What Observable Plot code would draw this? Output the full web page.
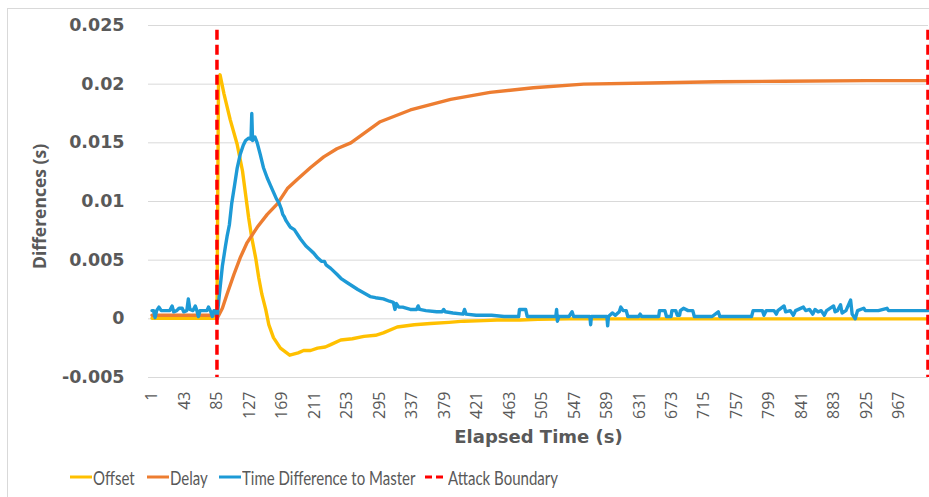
<!DOCTYPE html>
<html><head><meta charset="utf-8">
<script src="https://cdn.jsdelivr.net/npm/d3@7"></script>
<script src="https://cdn.jsdelivr.net/npm/@observablehq/plot@0.6"></script>
<style>
body{margin:0;background:#fff;}
#wrap{position:relative;width:929px;height:497px;overflow:hidden;background:#fff}
#frame{position:absolute;left:7px;top:8px;width:940px;height:520px;border:1px solid #d9d9d9;box-sizing:border-box;pointer-events:none}
#chart{position:absolute;left:0;top:0}
#legend{position:absolute;top:465px;left:0;width:929px;height:24px;font-family:Lato,sans-serif;font-size:19.5px;color:#595959}
.item{position:absolute;top:0;display:flex;align-items:center;height:24px;white-space:nowrap}
.item svg{margin-right:1px;flex:none}
.item span{display:inline-block;transform:scaleX(0.77);transform-origin:left center}
svg g[aria-label="y-axis tick label"] text{font-family:"DejaVu Sans";font-weight:bold;font-size:17.5px}
svg g[aria-label="x-axis tick label"] text{font-family:"Open Sans";font-size:16px}
</style></head>
<body><div id="wrap"><div id="chart"></div><div id="frame"></div><div id="legend"></div></div>
<script>
// ---- data ----
const xTicks = [1, 43, 85, 127, 169, 211, 253, 295, 337, 379, 421, 463, 505, 547, 589, 631, 673, 715, 757, 799, 841, 883, 925, 967];
const yTicks = [-0.005, 0, 0.005, 0.01, 0.015, 0.02, 0.025];
const yTickLabels = ["-0.005", "0", "0.005", "0.01", "0.015", "0.02", "0.025"];

const offsetTime = [1, 84, 85, 87, 89, 94, 102, 111, 118, 122, 126, 130, 135, 139, 143, 148, 152, 158, 167, 179, 190, 197, 206, 215, 225, 232, 245, 260, 275, 290, 300, 318, 340, 361, 385, 404, 430, 447, 477, 500, 540, 600, 700, 800, 900, 1004];
const offsetValues = [0.00005, 0.00005, 0, 0.0203, 0.0208, 0.0192, 0.0170, 0.0149, 0.0126, 0.0106, 0.0086, 0.0069, 0.0052, 0.0035, 0.0021, 0.0008, -0.0005, -0.0016, -0.0025, -0.0031, -0.0029, -0.0027, -0.0027, -0.0025, -0.0024, -0.0022, -0.0018, -0.0017, -0.0015, -0.0014, -0.0012, -0.0007, -0.0005, -0.0004, -0.0003, -0.0002, -0.00015, -0.0001, -0.0001, -0.00005, 0, 0, 0, 0, 0, 0];

const delayTime = [1, 84, 85, 92, 98, 107, 115, 124, 137, 150, 163, 176, 189, 206, 223, 240, 258, 275, 296, 335, 387, 438, 494, 559, 645, 731, 817, 925, 1004];
const delayValues = [0.0003, 0.0003, 0, 0.0009, 0.0021, 0.0038, 0.0052, 0.0065, 0.0078, 0.0089, 0.0098, 0.0111, 0.0119, 0.0129, 0.0138, 0.0145, 0.0150, 0.0158, 0.0168, 0.0178, 0.0187, 0.0193, 0.0197, 0.0200, 0.0201, 0.0202, 0.02025, 0.0203, 0.0203];

const masterTime = [1, 3, 5, 7, 10, 13, 20, 24, 27, 29, 33, 36, 40, 42, 46, 48, 50, 54, 57, 59, 61, 63, 68, 72, 74, 77, 79, 81, 84, 85,
  88, 92, 96, 98, 101, 104, 108, 111, 115, 119, 122, 126, 129, 130, 131, 134, 137, 141, 145, 150, 154, 158, 162, 165, 168, 170, 172, 174, 176, 178, 180, 185, 190, 193, 200, 205, 210, 215, 220, 224, 226, 232, 240, 246, 253, 260, 267, 275, 283, 290, 300, 308, 313, 315, 317, 320, 325, 335, 343, 345, 347, 355, 369, 376, 378, 380, 390, 403, 405, 407, 420, 440, 456, 470, 475, 476, 484, 486, 500, 515, 523, 524, 525, 527, 540, 544, 546, 560, 567, 568, 569, 580, 589, 590, 591, 596, 600, 605, 607, 610, 614, 616, 630, 632, 634, 650, 656, 657, 664, 666, 672, 673, 678, 680, 683, 684, 688, 694, 700, 702, 715, 725, 733, 735, 760, 776, 778, 790, 792, 795, 805, 808, 810, 818, 820, 826, 830, 833, 843, 846, 851, 855, 858, 862, 866, 870, 873, 882, 884, 887, 891, 893, 898, 904, 906, 910, 913, 921, 923, 940, 951, 953, 970, 985, 1004];
const masterValues = [0.0007, 0.0007, 0.0001, 0.0007, 0.0010, 0.0007, 0.0007, 0.0007, 0.0011, 0.0006, 0.0007, 0.0009, 0.0009, 0.0006, 0.0007, 0.0017, 0.0008, 0.0007, 0.0011, 0.0007, 0.0002, 0.0007, 0.0007, 0.0007, 0.0010, 0.0006, 0.0002, 0.0007, 0.0007, 0,
  0.0020, 0.0045, 0.0062, 0.0070, 0.0080, 0.0098, 0.0115, 0.0128, 0.0140, 0.0148, 0.0152, 0.0154, 0.0153, 0.0175, 0.0152, 0.0155, 0.0150, 0.0140, 0.0129, 0.0120, 0.0114, 0.0108, 0.0102, 0.0099, 0.0094, 0.0089, 0.0087, 0.0084, 0.0082, 0.0080, 0.0078, 0.0076, 0.0071, 0.0068, 0.0062, 0.0059, 0.0056, 0.0052, 0.0049, 0.0049, 0.0046, 0.0043, 0.0038, 0.0034, 0.0031, 0.0028, 0.0025, 0.0022, 0.0019, 0.0018, 0.0017, 0.0015, 0.0014, 0.0008, 0.0013, 0.0010, 0.0010, 0.0008, 0.0008, 0.0011, 0.0008, 0.0007, 0.0006, 0.0006, 0.0008, 0.0006, 0.0005, 0.0004, 0.0008, 0.0004, 0.0003, 0.0003, 0.0002, 0.0002, 0.0002, 0.0008, 0.0008, 0.0002, 0.0002, 0.0002, 0.0002, 0.0008, -0.0002, 0.0002, 0.0002, 0.0006, 0.0002, 0.0002, 0.0002, -0.0005, 0.0002, 0.0002, 0.0002, -0.0006, 0.0002, 0.0005, 0.0003, 0.0006, 0.0010, 0.0007, 0.0007, 0.0002, 0.0002, 0.0004, 0.0002, 0.0002, 0.0002, 0.0007, 0.0007, 0.0002, 0.0002, 0.0007, 0.0007, 0.0003, 0.0003, 0.0007, 0.0009, 0.0007, 0.0007, 0.0002, 0.0002, 0.0002, 0.0006, 0.0002, 0.0002, 0.0002, 0.0007, 0.0007, 0.0003, 0.0007, 0.0007, 0.0004, 0.0007, 0.0011, 0.0006, 0.0007, 0.0003, 0.0007, 0.0010, 0.0007, 0.0008, 0.0004, 0.0008, 0.0006, 0.0007, 0.0003, 0.0007, 0.0011, 0.0006, 0.0007, 0.0012, 0.0005, 0.0007, 0.0016, 0.0004, 0.0000, 0.0007, 0.0009, 0.0007, 0.0007, 0.0009, 0.0007, 0.0007, 0.0007, 0.0007];

const boundaryTimes = [85, 1004];
const boundaryTop = 0.0246;
const boundaryBottom = -0.005;

const seriesNames = ["Offset", "Delay", "Time Difference to Master", "Attack Boundary"];
const seriesColors = ["#FFC000", "#ED7D31", "#1D9AD6", "#FF0000"];

// ---- build tables ----
const toRows = (ts, vs) => ts.map((t, i) => ({t, v: vs[i]}));
const offsetRows = toRows(offsetTime, offsetValues);
const delayRows = toRows(delayTime, delayValues);
const masterRows = toRows(masterTime, masterValues);

const lineStyle = {x: "t", y: "v", strokeWidth: 3.4, strokeLinejoin: "round", strokeLinecap: "round"};

const chart = Plot.plot({
  width: 929,
  height: 460,
  marginLeft: 148,
  marginRight: 1,
  marginTop: 25,
  marginBottom: 83,
  style: {color: "#595959", background: "transparent", fontFamily: "DejaVu Sans"},
  x: {domain: [-3.5, 1004.7]},
  y: {domain: [-0.005, 0.025]},
  marks: [
    Plot.gridY(yTicks, {stroke: "#d9d9d9", strokeOpacity: 1, strokeWidth: 1}),
    Plot.axisY(yTicks, {tickSize: 0, tickPadding: 24, label: null, tickFormat: d => yTickLabels[yTicks.indexOf(d)]}),
    Plot.axisX(xTicks, {tickSize: 0, tickPadding: 14, tickRotate: -90, label: null, tickFormat: d => String(d)}),
    Plot.line(offsetRows, {...lineStyle, stroke: seriesColors[0]}),
    Plot.line(delayRows, {...lineStyle, stroke: seriesColors[1]}),
    Plot.line(masterRows, {...lineStyle, stroke: seriesColors[2]}),
    Plot.ruleX(boundaryTimes, {y1: () => boundaryTop, y2: () => boundaryBottom, stroke: seriesColors[3], strokeWidth: 3.5, strokeDasharray: "10,5"}),
    Plot.text(["Elapsed Time (s)"], {frameAnchor: "bottom", dy: 60, lineAnchor: "middle", textAnchor: "middle", fontSize: 18, fontWeight: "bold", fontFamily: "DejaVu Sans", fill: "#595959"}),
    Plot.text(["Differences (s)"], {frameAnchor: "left", dx: -108, dy: 5, rotate: -90, lineAnchor: "middle", textAnchor: "middle", fontSize: 17.5, fontWeight: "bold", fontFamily: "Open Sans", fill: "#595959"})
  ]
});
document.getElementById("chart").appendChild(chart);

// ---- legend ----
const legendX = [70, 147, 219, 425];
const legend = document.getElementById("legend");
seriesNames.forEach((name, i) => {
  const item = document.createElement("div");
  item.className = "item";
  item.style.left = legendX[i] + "px";
  const dash = i === 3 ? ' stroke-dasharray="7,4"' : '';
  item.innerHTML = `<svg width="22" height="6"><line x1="0" x2="22" y1="3" y2="3" stroke="${seriesColors[i]}" stroke-width="3"${dash}/></svg><span>${name}</span>`;
  legend.appendChild(item);
});
</script>
</body></html>
